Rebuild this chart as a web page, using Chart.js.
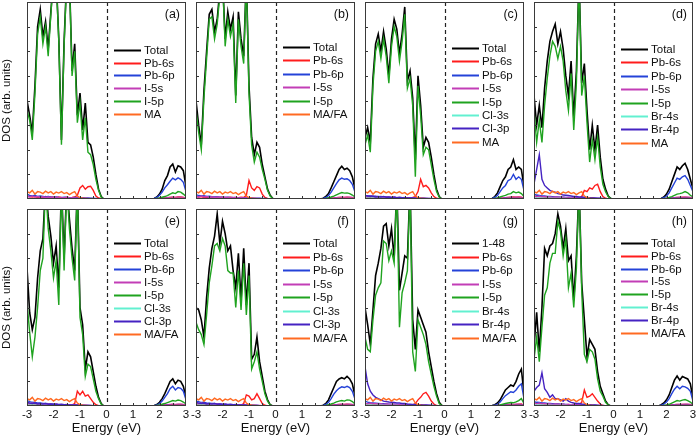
<!DOCTYPE html>
<html>
<head>
<meta charset="utf-8">
<script src="https://cdn.jsdelivr.net/npm/chart.js@4.4.1/dist/chart.umd.min.js"></script>
<style>
  html, body { margin: 0; padding: 0; background: #fff; }
  #wrap { position: relative; width: 697px; height: 436px; overflow: hidden; }
  #wrap canvas { position: absolute; }
</style>
</head>
<body>
<div id="wrap"></div>
<script>
// ── Energy grid (eV) ─────────────────────────────────────────
const energy = [-3.0,-2.9,-2.8,-2.7,-2.6,-2.5,-2.4,-2.3,-2.2,-2.1,-2.0,-1.9,-1.8,-1.7,-1.6,-1.5,-1.4,-1.3,-1.2,-1.1,
  -1.0,-0.9,-0.8,-0.7,-0.6,-0.5,-0.4,-0.3,-0.2,-0.1,0,1.7,1.8,1.9,2.0,2.1,2.2,2.3,2.4,2.5,2.6,2.7,2.8,2.9,3.0];
const xTickLabels = [-3, -2, -1, 0, 1, 2, 3];
const xMinorTicks = [-2.5, -2, -1.5, -1, -0.5, 0.5, 1, 1.5, 2, 2.5];
const yTicks = [1, 2, 3, 4, 5, 6, 7];

// ── Shared small contributions ───────────────────────────────
const maDos   = [0.3,0.25,0.35,0.2,0.3,0.28,0.22,0.32,0.25,0.3,0.2,0.28,0.24,0.3,0.22,0.26,0.18,0.25,0.3,0.12,0.06,0.03,0.02,0.01,0,0,0,0,0,0, 0,0,0,0,0,0,0.01,0.01,0.02,0.02,0.02,0.02,0.02,0.02,0.01];
const i5sDos  = [0.1,0.08,0.12,0.08,0.1,0.07,0.09,0.06,0.08,0.07,0.06,0.07,0.05,0.06,0.05,0.06,0.04,0.05,0.04,0.04,0.03,0.03,0.03,0.02,0.02,0.01,0.01,0,0,0, 0,0,0,0.01,0.02,0.03,0.04,0.05,0.06,0.07,0.06,0.07,0.07,0.06,0.03];
const halSDos = [0.03,0.03,0.04,0.03,0.03,0.02,0.03,0.02,0.02,0.02,0.02,0.02,0.02,0.01,0.02,0.01,0.01,0.01,0.01,0.01,0.01,0.01,0,0,0,0,0,0,0,0, 0,0,0,0,0,0.01,0.01,0.01,0.01,0.01,0.01,0.01,0.01,0.01,0];
const cl3pDos = [0.15,0.12,0.1,0.12,0.08,0.1,0.08,0.1,0.07,0.08,0.06,0.07,0.05,0.06,0.05,0.05,0.04,0.04,0.04,0.03,0.03,0.02,0.02,0.02,0.01,0.01,0,0,0,0, 0,0,0,0,0.01,0.01,0.01,0.02,0.02,0.02,0.02,0.02,0.02,0.02,0.01];

// ── (a) ──────────────────────────────────────────────────────
const totalA = [4.0,3.4,2.7,4.6,7.0,7.7,6.6,7.2,6.1,7.6,9,9,6.5,2.4,6.4,9,9,5.2,6.3,3.4,4.3,2.8,3.9,2.3,2.2,1.7,1.0,0.4,0.1,0, 0,0,0.02,0.08,0.2,0.4,0.75,0.95,1.3,1.42,1.1,1.35,1.3,1.15,0.5];
const i5pA   = [3.6,3.2,2.4,4.3,6.7,7.4,6.3,7.0,5.8,7.5,9,9,6.4,2.2,6.2,9,9,5.0,6.0,3.1,3.9,2.4,3.3,1.9,1.8,1.4,0.8,0.35,0.08,0, 0,0,0,0.02,0.04,0.07,0.1,0.14,0.2,0.25,0.22,0.3,0.28,0.2,0.1];
const pb6sA  = [0.12,0.1,0.08,0.1,0.06,0.08,0.07,0.1,0.06,0.08,0.07,0.05,0.08,0.06,0.05,0.07,0.05,0.06,0.08,0.15,0.45,0.55,0.4,0.5,0.52,0.35,0.12,0.04,0.01,0, 0,0,0,0.01,0.02,0.03,0.04,0.05,0.06,0.07,0.06,0.08,0.08,0.06,0.03];
const pb6pA  = [0.2,0.15,0.12,0.15,0.1,0.12,0.1,0.08,0.1,0.08,0.07,0.08,0.06,0.05,0.07,0.06,0.05,0.05,0.06,0.05,0.04,0.05,0.04,0.04,0.03,0.03,0.02,0.01,0,0, 0,0,0.02,0.06,0.15,0.28,0.45,0.58,0.72,0.85,0.78,0.86,0.8,0.68,0.3];

// ── (b) ──────────────────────────────────────────────────────
const totalB = [4.0,3.0,2.2,4.4,6.0,7.5,7.7,6.8,7.3,8.5,9,6.5,7.6,6.9,7.4,4.2,7.6,6.5,5.8,9,4.6,2.5,1.8,2.3,2.1,1.4,0.9,0.4,0.15,0.02, 0,0,0.03,0.1,0.22,0.45,0.7,0.95,1.2,1.33,1.2,1.25,1.15,0.9,0.4];
const i5pB   = [3.6,2.7,2.0,4.1,5.7,7.3,7.4,6.5,7.1,8.3,9,6.2,7.3,6.6,7.1,3.9,7.3,6.2,5.5,9,4.3,2.2,1.5,1.9,1.7,1.2,0.8,0.35,0.12,0.02, 0,0,0,0.02,0.05,0.08,0.12,0.17,0.22,0.26,0.24,0.25,0.22,0.16,0.08];
const pb6sB  = [0.1,0.08,0.1,0.06,0.08,0.07,0.09,0.06,0.08,0.06,0.07,0.05,0.06,0.07,0.05,0.06,0.05,0.07,0.06,0.15,0.75,0.45,0.35,0.5,0.45,0.2,0.06,0.02,0,0, 0,0,0,0.01,0.02,0.03,0.04,0.05,0.06,0.06,0.06,0.07,0.06,0.05,0.03];
const pb6pB  = [0.18,0.14,0.12,0.13,0.1,0.11,0.09,0.08,0.09,0.07,0.07,0.06,0.07,0.05,0.06,0.05,0.05,0.04,0.05,0.04,0.04,0.04,0.03,0.03,0.03,0.02,0.02,0.01,0,0, 0,0,0.02,0.06,0.14,0.28,0.45,0.62,0.78,0.85,0.8,0.82,0.75,0.6,0.28];

// ── (c) ──────────────────────────────────────────────────────
const totalC = [2.5,2.9,2.3,4.9,6.3,6.7,6.0,6.8,6.1,5.0,6.5,7.3,6.9,5.9,6.7,7.8,4.8,5.2,4.1,1.6,5.0,3.8,2.1,2.5,2.3,1.7,1.0,0.4,0.1,0, 0,0,0.02,0.1,0.25,0.5,0.75,0.9,1.2,1.3,1.6,1.2,1.3,1.2,0.5];
const i5pC   = [2.2,2.6,1.9,4.6,6.0,6.4,5.7,6.5,5.8,4.7,6.2,7.0,6.6,5.6,6.4,7.5,4.5,4.9,3.8,0.9,4.6,3.4,1.8,2.1,2.0,1.4,0.8,0.3,0.08,0, 0,0,0,0.02,0.04,0.08,0.12,0.15,0.2,0.22,0.3,0.25,0.28,0.22,0.1];
const pb6sC  = [0.1,0.08,0.07,0.09,0.06,0.08,0.06,0.07,0.05,0.06,0.05,0.06,0.05,0.04,0.05,0.04,0.05,0.04,0.06,0.1,0.3,0.8,0.5,0.55,0.45,0.25,0.1,0.03,0,0, 0,0,0,0.01,0.02,0.03,0.04,0.05,0.06,0.07,0.08,0.07,0.08,0.07,0.03];
const pb6pC  = [0.15,0.12,0.13,0.1,0.11,0.09,0.1,0.08,0.08,0.07,0.06,0.07,0.05,0.06,0.05,0.05,0.04,0.04,0.04,0.03,0.04,0.03,0.03,0.02,0.02,0.02,0.01,0,0,0, 0,0,0.02,0.06,0.15,0.3,0.45,0.55,0.75,0.8,1.0,0.8,0.9,0.8,0.35];

// ── (d) ──────────────────────────────────────────────────────
const totalD = [4.2,3.0,3.8,2.9,4.5,5.6,6.4,6.8,7.1,6.3,6.8,6.1,5.0,4.2,5.6,3.3,5.2,9,4.7,5.5,3.6,2.0,3.0,2.0,3.0,1.7,0.8,0.4,0.12,0.02, 0,0,0.02,0.08,0.2,0.4,0.7,1.0,1.3,1.2,1.35,1.45,1.2,0.8,0.4];
const i5pD   = [3.6,2.3,3.2,2.3,3.8,4.9,5.8,6.4,6.2,5.7,6.2,5.6,4.4,3.6,5.1,2.8,4.7,9,4.2,5.0,3.1,1.5,2.4,1.6,2.5,1.3,0.6,0.3,0.1,0.02, 0,0,0,0.01,0.03,0.06,0.1,0.15,0.2,0.22,0.25,0.3,0.25,0.15,0.08];
const pb6sD  = [0.1,0.12,0.08,0.1,0.07,0.08,0.06,0.07,0.06,0.05,0.06,0.05,0.05,0.04,0.05,0.04,0.04,0.05,0.1,0.35,0.3,0.45,0.4,0.55,0.6,0.3,0.1,0.03,0,0, 0,0,0,0.01,0.02,0.03,0.04,0.05,0.06,0.06,0.07,0.07,0.06,0.05,0.03];
const pb6pD  = [0.2,0.16,0.14,0.12,0.12,0.1,0.1,0.09,0.08,0.08,0.07,0.07,0.06,0.06,0.05,0.05,0.05,0.04,0.04,0.04,0.03,0.03,0.03,0.02,0.02,0.02,0.01,0.01,0,0, 0,0,0.02,0.05,0.12,0.25,0.45,0.65,0.85,0.8,0.9,0.95,0.8,0.55,0.3];
const br4pD  = [0.6,1.2,1.8,0.8,0.55,0.45,0.35,0.3,0.28,0.22,0.2,0.16,0.15,0.14,0.12,0.1,0.1,0.08,0.08,0.07,0.06,0.05,0.05,0.04,0.03,0.03,0.02,0.01,0,0, 0,0,0,0,0.01,0.01,0.02,0.02,0.03,0.03,0.03,0.03,0.03,0.02,0.01];

// ── (e) ──────────────────────────────────────────────────────
const totalE = [5.6,3.8,3.1,3.6,5.2,6.3,6.8,9,7.7,6.9,5.8,6.5,4.8,9,6.0,9,7.6,6.4,5.5,9,4.0,3.3,1.5,2.2,2.0,1.4,0.8,0.35,0.1,0, 0,0,0.02,0.06,0.15,0.3,0.5,0.75,1.0,1.1,0.9,1.05,1.0,0.8,0.35];
const i5pE   = [4.2,3.0,2.0,2.8,4.0,5.5,6.0,9,7.2,6.3,5.2,5.9,4.1,9,5.5,9,7.2,6.0,5.1,9,3.6,2.9,1.2,1.7,1.6,1.1,0.6,0.3,0.08,0, 0,0,0,0.02,0.04,0.07,0.1,0.14,0.18,0.22,0.2,0.24,0.22,0.16,0.08];
const pb6sE  = [0.08,0.1,0.07,0.09,0.06,0.08,0.06,0.07,0.05,0.06,0.05,0.06,0.05,0.05,0.04,0.05,0.04,0.05,0.1,0.6,0.45,0.6,0.4,0.45,0.3,0.15,0.05,0.01,0,0, 0,0,0,0.01,0.02,0.03,0.04,0.05,0.05,0.06,0.05,0.06,0.06,0.05,0.02];
const pb6pE  = [0.22,0.18,0.15,0.14,0.12,0.12,0.1,0.1,0.09,0.08,0.08,0.07,0.06,0.06,0.05,0.05,0.05,0.04,0.04,0.04,0.03,0.03,0.02,0.02,0.02,0.01,0.01,0,0,0, 0,0,0.01,0.04,0.1,0.2,0.35,0.5,0.7,0.8,0.65,0.75,0.72,0.6,0.25];

// ── (f) ──────────────────────────────────────────────────────
const totalF = [4.0,3.9,3.5,2.8,4.4,5.6,6.4,6.9,7.8,6.6,7.5,7.0,6.3,6.5,5.5,4.8,6.2,4.3,6.4,4.1,5.8,1.9,2.1,2.8,1.8,1.2,0.6,0.25,0.05,0, 0,0,0.03,0.1,0.25,0.5,0.75,1.0,1.1,1.15,1.1,1.2,1.1,0.9,0.4];
const i5pF   = [3.4,3.1,2.9,2.5,3.7,5.0,5.7,6.5,6.6,6.3,6.8,6.5,5.5,5.4,5.4,4.0,5.5,3.9,5.8,3.7,5.3,1.5,1.8,2.2,1.5,1.0,0.5,0.2,0.04,0, 0,0,0,0.02,0.05,0.08,0.12,0.17,0.2,0.22,0.2,0.25,0.24,0.18,0.08];
const pb6sF  = [0.08,0.07,0.09,0.06,0.07,0.05,0.06,0.05,0.06,0.05,0.04,0.05,0.04,0.05,0.04,0.04,0.05,0.04,0.1,0.45,0.4,0.25,0.3,0.5,0.3,0.1,0.03,0,0,0, 0,0,0,0.01,0.02,0.03,0.04,0.05,0.06,0.06,0.06,0.07,0.06,0.05,0.02];
const pb6pF  = [0.2,0.18,0.14,0.15,0.12,0.11,0.1,0.1,0.08,0.08,0.07,0.07,0.06,0.06,0.05,0.05,0.04,0.04,0.04,0.03,0.03,0.03,0.02,0.02,0.01,0.01,0,0,0,0, 0,0,0.02,0.06,0.15,0.3,0.48,0.62,0.72,0.78,0.75,0.8,0.75,0.6,0.28];

// ── (g) ──────────────────────────────────────────────────────
const totalG = [4.0,3.3,2.5,3.9,5.3,5.8,6.4,7.3,7.4,6.5,7.2,6.0,9,4.7,5.4,6.1,6.0,9,3.5,2.3,3.9,3.6,3.3,3.0,2.2,1.6,1.0,0.5,0.15,0.02, 0,0,0.02,0.05,0.12,0.25,0.45,0.65,0.75,0.85,0.8,1.0,1.3,1.5,0.5];
const i5pG   = [2.8,2.3,2.2,3.5,4.5,4.8,5.0,6.7,6.6,5.9,6.3,5.8,9,3.2,4.6,5.0,5.5,9,2.2,1.4,3.5,3.2,2.9,2.5,1.8,1.3,0.8,0.4,0.1,0.02, 0,0,0,0.01,0.02,0.04,0.07,0.1,0.12,0.14,0.13,0.17,0.22,0.3,0.1];
const pb6sG  = [0.1,0.08,0.09,0.07,0.08,0.06,0.07,0.05,0.06,0.05,0.05,0.06,0.04,0.05,0.04,0.05,0.04,0.04,0.05,0.1,0.25,0.35,0.5,0.55,0.4,0.2,0.08,0.02,0,0, 0,0,0,0.01,0.01,0.02,0.03,0.04,0.04,0.05,0.05,0.06,0.07,0.08,0.03];
const pb6pG  = [0.2,0.16,0.13,0.12,0.11,0.1,0.09,0.09,0.08,0.07,0.07,0.06,0.06,0.05,0.05,0.05,0.04,0.04,0.03,0.03,0.03,0.03,0.02,0.02,0.02,0.01,0.01,0,0,0, 0,0,0.01,0.03,0.08,0.16,0.3,0.42,0.5,0.58,0.55,0.65,0.8,0.9,0.3];
const br4pG  = [1.6,0.9,0.6,0.45,0.35,0.3,0.25,0.2,0.18,0.16,0.15,0.14,0.12,0.12,0.1,0.1,0.08,0.07,0.06,0.06,0.05,0.05,0.04,0.04,0.03,0.03,0.02,0.01,0,0, 0,0,0,0,0.01,0.01,0.01,0.02,0.02,0.02,0.02,0.03,0.03,0.03,0.01];

// ── (h) ──────────────────────────────────────────────────────
const totalH = [2.4,3.8,2.2,4.0,6.4,6.1,6.5,6.6,7.0,7.8,7.3,6.4,7.2,5.9,6.1,4.3,6.1,9,5.0,3.5,2.0,2.7,2.5,2.3,1.4,0.8,0.5,0.2,0.05,0, 0,0,0.05,0.12,0.25,0.45,0.75,1.05,1.22,1.05,1.2,1.15,1.1,0.9,0.3];
const i5pH   = [1.9,2.8,1.8,3.2,4.5,4.8,5.8,6.2,6.2,7.5,7.1,6.1,6.8,4.8,5.4,4.0,5.6,9,4.7,2.1,1.8,2.3,2.2,1.9,1.1,0.6,0.4,0.15,0.04,0, 0,0,0,0.02,0.04,0.07,0.12,0.17,0.22,0.2,0.24,0.26,0.22,0.16,0.06];
const pb6sH  = [0.1,0.12,0.08,0.1,0.07,0.09,0.06,0.08,0.06,0.07,0.05,0.06,0.05,0.06,0.04,0.05,0.04,0.05,0.15,0.65,0.35,0.4,0.5,0.35,0.2,0.08,0.02,0,0,0, 0,0,0,0.01,0.02,0.03,0.04,0.05,0.06,0.05,0.06,0.06,0.06,0.05,0.02];
const pb6pH  = [0.18,0.15,0.14,0.12,0.12,0.1,0.1,0.09,0.08,0.08,0.07,0.07,0.06,0.05,0.05,0.05,0.04,0.04,0.04,0.03,0.03,0.02,0.02,0.02,0.01,0.01,0,0,0,0, 0,0,0.03,0.08,0.16,0.3,0.5,0.68,0.8,0.7,0.8,0.78,0.72,0.6,0.2];
const br4pH  = [0.6,0.75,0.85,1.35,0.7,0.55,0.35,0.45,0.3,0.3,0.25,0.2,0.3,0.2,0.15,0.12,0.1,0.1,0.08,0.07,0.05,0.05,0.04,0.04,0.03,0.02,0.02,0.01,0,0, 0,0,0,0,0.01,0.01,0.02,0.02,0.03,0.03,0.03,0.03,0.03,0.02,0.01];

// ── Styling ──────────────────────────────────────────────────
const FONT = '"Liberation Sans", Arial, Helvetica, sans-serif';
const COLORS = {
  tot: '#000000', s6: '#ff1c1c', p6: '#2442d8', i5s: '#c23db6',
  i5p: '#1fa31f', hs: '#62f0d0', hp: '#4523c2', ma: '#ff6a22'
};

const panels = [
  { tag: '(a)', row: 0, col: 0, legendTop: 48, legendGap: 12.7, series: [
    ['Total', totalA, 'tot'], ['Pb-6s', pb6sA, 's6'], ['Pb-6p', pb6pA, 'p6'],
    ['I-5s', i5sDos, 'i5s'], ['I-5p', i5pA, 'i5p'], ['MA', maDos, 'ma']] },
  { tag: '(b)', row: 0, col: 1, legendTop: 45, legendGap: 13.4, series: [
    ['Total', totalB, 'tot'], ['Pb-6s', pb6sB, 's6'], ['Pb-6p', pb6pB, 'p6'],
    ['I-5s', i5sDos, 'i5s'], ['I-5p', i5pB, 'i5p'], ['MA/FA', maDos, 'ma']] },
  { tag: '(c)', row: 0, col: 2, legendTop: 46, legendGap: 13.4, series: [
    ['Total', totalC, 'tot'], ['Pb-6s', pb6sC, 's6'], ['Pb-6p', pb6pC, 'p6'],
    ['I-5s', i5sDos, 'i5s'], ['I-5p', i5pC, 'i5p'], ['Cl-3s', halSDos, 'hs'],
    ['Cl-3p', cl3pDos, 'hp'], ['MA', maDos, 'ma']] },
  { tag: '(d)', row: 0, col: 3, legendTop: 47, legendGap: 13.4, series: [
    ['Total', totalD, 'tot'], ['Pb-6s', pb6sD, 's6'], ['Pb-6p', pb6pD, 'p6'],
    ['I-5s', i5sDos, 'i5s'], ['I-5p', i5pD, 'i5p'], ['Br-4s', halSDos, 'hs'],
    ['Br-4p', br4pD, 'hp'], ['MA', maDos, 'ma']] },
  { tag: '(e)', row: 1, col: 0, legendTop: 34, legendGap: 13, series: [
    ['Total', totalE, 'tot'], ['Pb-6s', pb6sE, 's6'], ['Pb-6p', pb6pE, 'p6'],
    ['I-5s', i5sDos, 'i5s'], ['I-5p', i5pE, 'i5p'], ['Cl-3s', halSDos, 'hs'],
    ['Cl-3p', cl3pDos, 'hp'], ['MA/FA', maDos, 'ma']] },
  { tag: '(f)', row: 1, col: 1, legendTop: 34, legendGap: 13.5, series: [
    ['Total', totalF, 'tot'], ['Pb-6s', pb6sF, 's6'], ['Pb-6p', pb6pF, 'p6'],
    ['I-5s', i5sDos, 'i5s'], ['I-5p', i5pF, 'i5p'], ['Cl-3s', halSDos, 'hs'],
    ['Cl-3p', cl3pDos, 'hp'], ['MA/FA', maDos, 'ma']] },
  { tag: '(g)', row: 1, col: 2, legendTop: 34, legendGap: 13.5, series: [
    ['1-48', totalG, 'tot'], ['Pb-6s', pb6sG, 's6'], ['Pb-6p', pb6pG, 'p6'],
    ['I-5s', i5sDos, 'i5s'], ['I-5p', i5pG, 'i5p'], ['Br-4s', halSDos, 'hs'],
    ['Br-4p', br4pG, 'hp'], ['MA/FA', maDos, 'ma']] },
  { tag: '(h)', row: 1, col: 3, legendTop: 34, legendGap: 12.8, series: [
    ['Total', totalH, 'tot'], ['Pb-6s', pb6sH, 's6'], ['Pb-6p', pb6pH, 'p6'],
    ['I-5s', i5sDos, 'i5s'], ['I-5p', i5pH, 'i5p'], ['Br-4s', halSDos, 'hs'],
    ['Br-4p', br4pH, 'hp'], ['MA/FA', maDos, 'ma']] }
];

// ── Frame, ticks, dashed Fermi line, tag and legend ─────────
const panelDeco = {
  id: 'panelDeco',
  beforeDatasetsDraw(chart) {
    const { ctx, chartArea: a, scales: { x } } = chart;
    const px = Math.round(x.getPixelForValue(0)) + 0.5;
    ctx.save();
    ctx.strokeStyle = '#222';
    ctx.lineWidth = 1.2;
    ctx.setLineDash([4, 3]);
    ctx.beginPath();
    ctx.moveTo(px, a.top);
    ctx.lineTo(px, a.bottom);
    ctx.stroke();
    ctx.restore();
  },
  afterDatasetsDraw(chart) {
    const { ctx, chartArea: a, scales: { x, y } } = chart;
    const cfg = chart.options.plugins.panelDeco;
    ctx.save();
    ctx.strokeStyle = '#333';
    ctx.lineWidth = 1;
    ctx.beginPath();
    xMinorTicks.forEach(v => {
      const p = Math.round(x.getPixelForValue(v)) + 0.5;
      ctx.moveTo(p, a.bottom);
      ctx.lineTo(p, a.bottom - 3);
    });
    yTicks.forEach(v => {
      const p = Math.round(y.getPixelForValue(v)) + 0.5;
      ctx.moveTo(a.left, p);
      ctx.lineTo(a.left + 3, p);
    });
    ctx.stroke();
    ctx.strokeStyle = '#3a3a3a';
    ctx.strokeRect(a.left + 0.5, a.top + 0.5, a.width - 1, a.height - 1);

    ctx.fillStyle = '#111';
    ctx.font = '12.5px ' + FONT;
    ctx.textAlign = 'right';
    ctx.textBaseline = 'middle';
    ctx.fillText(cfg.tag, a.right - 6, a.top + 13);

    ctx.textAlign = 'left';
    ctx.font = '11.5px ' + FONT;
    chart.data.datasets.forEach((ds, i) => {
      const ly = Math.round(a.top + cfg.legendTop + i * cfg.legendGap) + 0.5;
      ctx.strokeStyle = ds.borderColor;
      ctx.lineWidth = 2;
      ctx.beginPath();
      ctx.moveTo(a.left + 87, ly);
      ctx.lineTo(a.left + 114, ly);
      ctx.stroke();
      ctx.fillText(ds.label, a.left + 117, ly + 0.5);
    });
    ctx.restore();
  }
};

// ── Build the eight panels ───────────────────────────────────
const wrap = document.getElementById('wrap');
const PANEL_W = 159, PANEL_H = 197;

panels.forEach(p => {
  const L = 27 + 169 * p.col;
  const T = p.row === 0 ? 2 : 209;
  const showX = p.row === 1;
  const showY = p.col === 0;
  const padL = showY ? 0 : 8;
  const padR = 8;
  const padT = p.row === 0 ? 2 : 4;
  const padB = showX ? 0 : 4;
  const left = showY ? 0 : L - padL;
  const width = (L - left) + PANEL_W + padR;
  const height = padT + PANEL_H + (showX ? 30 : padB);

  const cv = document.createElement('canvas');
  cv.width = width;
  cv.height = height;
  cv.style.left = left + 'px';
  cv.style.top = (T - padT) + 'px';
  cv.style.width = width + 'px';
  cv.style.height = height + 'px';
  wrap.appendChild(cv);

  const n = p.series.length;
  const datasets = p.series.map(([label, vals, key], k) => ({
    label,
    data: energy.map((e, i) => ({ x: e, y: vals[i] })),
    borderColor: COLORS[key],
    borderWidth: key === 'tot' ? 1.6 : 1.4,
    pointRadius: 0,
    tension: 0,
    fill: false,
    order: n - k
  }));

  new Chart(cv, {
    type: 'line',
    data: { datasets },
    plugins: [panelDeco],
    options: {
      responsive: false,
      animation: false,
      events: [],
      devicePixelRatio: 1,
      layout: { padding: { left: padL, right: padR, top: padT, bottom: padB } },
      plugins: {
        legend: { display: false },
        tooltip: { enabled: false },
        panelDeco: { tag: p.tag, legendTop: p.legendTop, legendGap: p.legendGap }
      },
      scales: {
        x: {
          type: 'linear',
          min: -3,
          max: 3,
          display: showX,
          afterBuildTicks: s => { s.ticks = xTickLabels.map(v => ({ value: v })); },
          afterFit: s => { s.height = showX ? 30 : 0; },
          grid: { display: false, drawTicks: false },
          border: { display: false },
          ticks: { color: '#111', font: { size: 11.5, family: FONT }, padding: 2, maxRotation: 0, autoSkip: false },
          title: { display: true, text: 'Energy (eV)', color: '#111', font: { size: 13, family: FONT }, padding: 0 }
        },
        y: {
          type: 'linear',
          min: 0,
          max: 8,
          display: showY,
          afterFit: s => { s.width = showY ? 27 : 0; },
          grid: { display: false, drawTicks: false },
          border: { display: false },
          ticks: { display: false },
          title: { display: true, text: 'DOS (arb. units)', color: '#111', font: { size: 11.5, family: FONT }, padding: 0 }
        }
      }
    }
  });
});
</script>
</body>
</html>
